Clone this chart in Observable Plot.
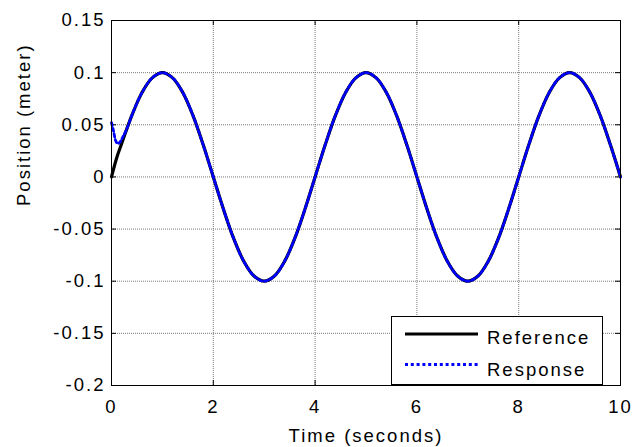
<!DOCTYPE html>
<html>
<head>
<meta charset="utf-8">
<script src="https://cdn.jsdelivr.net/npm/d3@7"></script>
<script src="https://cdn.jsdelivr.net/npm/@observablehq/plot@0.6"></script>
<style>
  html, body { margin: 0; padding: 0; background: white; }
  #chart { position: relative; width: 642px; height: 447px; }
  #legend { position: absolute; left: 391px; top: 316px; }
</style>
</head>
<body>
<div id="chart"></div>
<script>
// Reference trajectory (time in seconds, position in meters)
const refTime = [0, 0.1, 0.2, 0.4, 0.6, 0.8, 1.0, 1.2, 1.4, 1.6, 1.8,
  2.0, 2.2, 2.4, 2.6, 2.8, 3.0, 3.2, 3.4, 3.6, 3.8,
  4.0, 4.2, 4.4, 4.6, 4.8, 5.0, 5.2, 5.4, 5.6, 5.8,
  6.0, 6.2, 6.4, 6.6, 6.8, 7.0, 7.2, 7.4, 7.6, 7.8,
  8.0, 8.2, 8.4, 8.6, 8.8, 9.0, 9.2, 9.4, 9.6, 9.8, 10.0];
const refPos = [0, 0.018, 0.032, 0.059, 0.081, 0.095, 0.100, 0.095, 0.081, 0.059, 0.031,
  0, -0.031, -0.059, -0.081, -0.095, -0.100, -0.095, -0.081, -0.059, -0.031,
  0, 0.031, 0.059, 0.081, 0.095, 0.100, 0.095, 0.081, 0.059, 0.031,
  0, -0.031, -0.059, -0.081, -0.095, -0.100, -0.095, -0.081, -0.059, -0.031,
  0, 0.031, 0.059, 0.081, 0.095, 0.100, 0.095, 0.081, 0.059, 0.031, 0];

// Measured response: initial transient, then it tracks the reference
const respEarlyTime = [0, 0.04, 0.08, 0.12, 0.16, 0.22, 0.3];
const respEarlyPos = [0.052, 0.044, 0.035, 0.032, 0.033, 0.038, 0.046];

const xTicks = [0, 2, 4, 6, 8, 10];
const yTicks = [-0.2, -0.15, -0.1, -0.05, 0, 0.05, 0.1, 0.15];
const yTickLabels = ["-0.2", "-0.15", "-0.1", "-0.05", "0", "0.05", "0.1", "0.15"];

const seriesNames = ["Reference", "Response"];

const reference = refTime.map((t, i) => ({t, p: refPos[i]}));
const response = respEarlyTime.map((t, i) => ({t, p: respEarlyPos[i]}))
  .concat(reference.filter(d => d.t >= 0.4));

const W = 642, H = 447;
const mL = 111, mR = 22, mT = 20, mB = 62;
const plotW = W - mL - mR, plotH = H - mT - mB;
const tick = 5;
const dotted = "3,2.8";

const chart = Plot.plot({
  width: W,
  height: H,
  marginLeft: mL,
  marginRight: mR,
  marginTop: mT,
  marginBottom: mB,
  style: {
    fontFamily: "'Liberation Sans', Arial, sans-serif",
    fontSize: "18.5px",
    letterSpacing: "2px",
    background: "white",
    color: "black"
  },
  x: {domain: [0, 10]},
  y: {domain: [-0.2, 0.15]},
  marks: [
    // dotted grid
    Plot.ruleX(xTicks, {x: d => d, stroke: "#7a7a7a", strokeWidth: 1, strokeDasharray: "1,1"}),
    Plot.ruleY(yTicks, {y: d => d, stroke: "#7a7a7a", strokeWidth: 1, strokeDasharray: "1,1"}),
    // inward ticks on all four sides
    Plot.ruleX(xTicks, {x: d => d, insetTop: plotH - tick, stroke: "black"}),
    Plot.ruleX(xTicks, {x: d => d, insetBottom: plotH - tick, stroke: "black"}),
    Plot.ruleY(yTicks, {y: d => d, insetRight: plotW - tick, stroke: "black"}),
    Plot.ruleY(yTicks, {y: d => d, insetLeft: plotW - tick, stroke: "black"}),
    // tick labels
    Plot.axisX({ticks: xTicks, tickSize: 0, tickPadding: 14, label: null, tickFormat: d => String(d)}),
    Plot.axisY({ticks: yTicks, tickSize: 0, tickPadding: 6, label: null,
      tickFormat: d => yTickLabels[yTicks.indexOf(d)]}),
    // axis titles
    Plot.text(["Time (seconds)"], {frameAnchor: "bottom", text: d => d, dy: 56, lineAnchor: "bottom"}),
    Plot.text(["Position (meter)"], {frameAnchor: "left", text: d => d, rotate: -90, dx: -82, dy: 3, lineAnchor: "bottom"}),
    // series
    Plot.line(reference, {x: "t", y: "p", stroke: "black", strokeWidth: 3.2, curve: "catmull-rom"}),
    Plot.line(response, {x: "t", y: "p", stroke: "#0000ff", strokeWidth: 2.8, strokeDasharray: dotted, curve: "catmull-rom"}),
    Plot.frame({stroke: "black", strokeWidth: 1})
  ]
});

const container = document.getElementById("chart");
container.appendChild(chart);

// legend box in the lower right corner
const lw = 212, lh = 69;
const legend = d3.select(container).append("svg")
  .attr("id", "legend")
  .attr("width", lw)
  .attr("height", lh)
  .style("font-family", "'Liberation Sans', Arial, sans-serif")
  .style("font-size", "18.5px")
  .style("letter-spacing", "2px");
legend.append("rect")
  .attr("x", 0.5).attr("y", 0.5)
  .attr("width", lw - 1).attr("height", lh - 1)
  .attr("fill", "white").attr("stroke", "black");
const rows = [
  {name: seriesNames[0], stroke: "black", dash: null, y: 18, base: 28},
  {name: seriesNames[1], stroke: "#0000ff", dash: dotted, y: 48.5, base: 59.5}
];
rows.forEach(r => {
  legend.append("line")
    .attr("x1", 14).attr("x2", 87)
    .attr("y1", r.y).attr("y2", r.y)
    .attr("stroke", r.stroke).attr("stroke-width", 3)
    .attr("stroke-dasharray", r.dash);
  legend.append("text")
    .attr("x", 96).attr("y", r.base)
    .attr("fill", "black")
    .text(r.name);
});
</script>
</body>
</html>
